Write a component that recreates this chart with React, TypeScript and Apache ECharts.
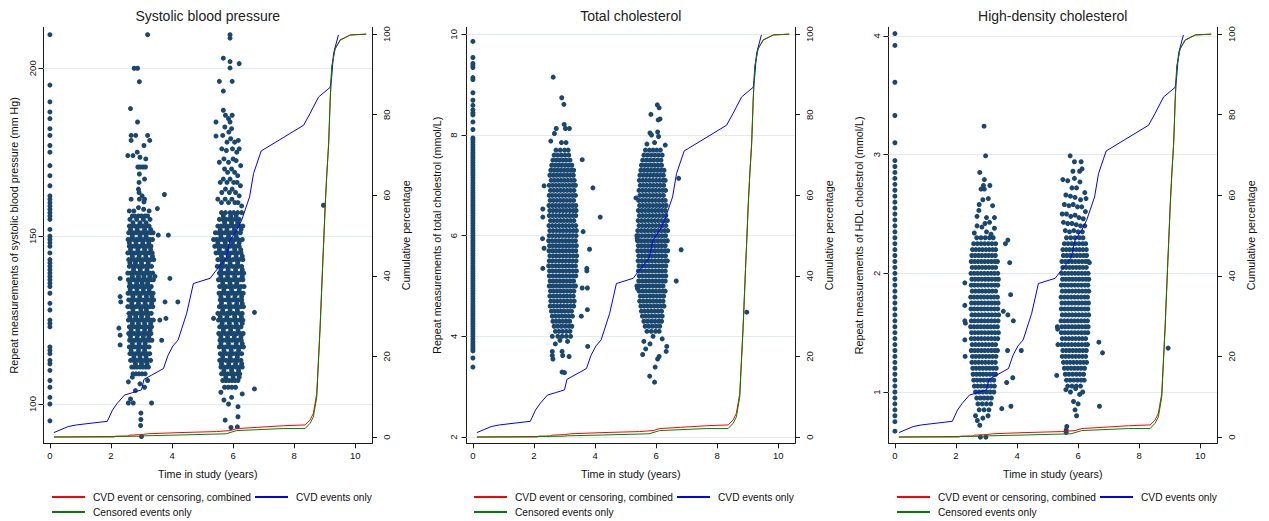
import React, { useEffect, useRef } from "react";
import * as echarts from "echarts";

// ---------- tick labels ----------
const xTicks = [0, 2, 4, 6, 8, 10];
const pctTicks = [0, 20, 40, 60, 80, 100];
const sbpTicks = [100, 150, 200];
const tcTicks = [2, 4, 6, 8, 10];
const hdlTicks = [1, 2, 3, 4];

// ---------- texts ----------
const titles = ["Systolic blood pressure", "Total cholesterol", "High-density cholesterol"];
const yNames = [
  "Repeat measurements of systolic blood pressure (mm Hg)",
  "Repeat measurements of total cholestrol (mmol/L)",
  "Repeat measurements of HDL cholestrol (mmol/L)",
];
const xName = "Time in study (years)";
const pctName = "Cumulative percentage";
const seriesNames = ["CVD event or censoring, combined", "CVD events only", "Censored events only"];

// ---------- cumulative percentage lines [time, percent] ----------
const combinedLine = [[0.13,0],[2.1,0],[2.16,0.2],[2.55,0.25],[2.6,0.45],[3.0,0.6],[3.2,0.8],[4.26,1.1],[5.46,1.35],[5.9,1.6],[6.12,2.1],[6.8,2.4],[7.65,2.8],[8.36,3.0],[8.52,4.2],[8.63,5.9],[8.74,10.8],[8.85,27.4],[8.94,43.9],[8.96,47.2],[9.02,58],[9.07,65.4],[9.13,72.9],[9.18,83.6],[9.23,91.9],[9.34,96.4],[9.51,98.6],[9.84,99.8],[10.36,100]];
const cvdLine = [[0.13,1.1],[0.6,2.6],[0.87,3.0],[1.88,3.9],[2.05,6.7],[2.2,8.3],[2.44,10.4],[2.7,11.0],[3.0,11.7],[3.08,14.3],[3.72,17.0],[3.87,20.3],[4.03,22.6],[4.2,24.1],[4.48,30.7],[4.7,38.1],[5.25,39.4],[5.41,41],[5.77,44.4],[5.9,48.9],[6.12,51.4],[6.28,53.8],[6.54,59.6],[6.67,65.4],[6.92,71.0],[8.31,77.4],[8.52,80.3],[8.8,84.4],[9.18,86.8],[9.23,89.4],[9.29,95.2],[9.45,99.8]];
const censoredLine = [[0.13,0],[2.95,0.2],[3.1,0.3],[4.26,0.5],[5.77,0.8],[6.12,1.6],[7.65,2.1],[8.36,2.1],[8.52,3.4],[8.63,5.0],[8.74,9.9],[8.85,27],[8.94,43.5],[8.96,47],[9.02,57.8],[9.07,65.2],[9.13,72.7],[9.18,83.4],[9.23,91.7],[9.34,96.3],[9.51,98.5],[9.84,99.8],[10.36,100]];

// ---------- Systolic blood pressure ----------
const sbpBase = [210,195,190,187,185,182,180,177,175,171,168,165,162,161,160,159,158,157,156,155,152,150,149,148,147,145,143,142,141,140,139,138,137,136,135,133,130,128,125,124,123,117,116,115,113,112,110,107,105,102,100,95];
// rows: [value, time, time, ...]
const sbp3Rows = [
[156,2.7,2.78,2.9,3.0,3.12,3.2],
[155,2.62,2.84,3.06,3.28],
[154,2.72,2.95,3.15],
[153,2.6,2.68,2.77,2.88,2.97,3.05,3.16,3.25],
[152,2.64,2.86,3.1,3.3],
[151,2.58,2.66,2.74,2.83,2.93,3.02,3.1,3.19,3.3,3.38],
[150,2.7,2.95,3.15],
[149,2.56,2.65,2.75,2.84,2.92,3.0,3.09,3.18,3.27,3.36],
[148,2.6,2.82,3.04,3.24],
[147,2.6,2.69,2.78,2.86,2.95,3.05,3.13,3.22,3.31],
[146,2.64,2.88,3.1,3.3],
[145,2.55,2.63,2.72,2.8,2.9,2.99,3.08,3.17,3.26,3.35],
[144,2.7,2.92,3.14,3.36],
[143,2.58,2.67,2.76,2.85,2.94,3.03,3.12,3.21,3.3,3.4],
[142,2.62,2.8,3.0,3.22],
[141,2.6,2.7,2.79,2.88,2.97,3.06,3.15,3.24,3.33],
[140,2.74,2.96,3.18],
[139,2.55,2.64,2.73,2.82,2.91,3.0,3.1,3.19,3.28,3.37],
[138,2.7,2.9,3.08,3.27],
[137,2.57,2.66,2.75,2.84,2.94,3.03,3.12,3.21,3.31,3.39],
[136,2.62,2.84,3.02,3.2],
[135,2.6,2.69,2.78,2.87,2.96,3.05,3.14,3.23,3.32],
[134,2.63,2.85,3.06,3.25],
[133,2.56,2.65,2.74,2.83,2.92,3.01,3.11,3.2,3.29,3.38],
[132,2.72,2.94,3.16,3.34],
[131,2.58,2.67,2.76,2.86,2.95,3.04,3.13,3.22,3.31,3.4],
[130,2.68,2.9,3.12,3.33],
[129,2.55,2.64,2.73,2.82,2.92,3.01,3.1,3.19,3.28,3.37],
[128,2.72,2.98,3.16],
[127,2.59,2.68,2.77,2.86,2.96,3.05,3.14,3.23,3.32],
[126,2.62,2.81,3.0,3.2],
[125,2.57,2.66,2.75,2.84,2.93,3.02,3.12,3.21,3.3,3.39],
[124,2.7,2.9,3.1,3.3],
[123,2.6,2.69,2.78,2.87,2.97,3.06,3.15,3.24,3.33],
[122,2.66,2.88,3.1,3.28],
[121,2.58,2.67,2.76,2.85,2.94,3.04,3.13,3.22,3.31],
[120,2.64,2.86,3.06,3.24],
[119,2.61,2.7,2.79,2.88,2.98,3.07,3.16,3.25,3.34],
[118,2.7,2.92,3.12],
[117,2.6,2.69,2.78,2.88,2.97,3.06,3.15,3.25],
[116,2.66,2.9,3.1],
[115,2.62,2.71,2.8,2.9,2.99,3.08,3.18,3.27],
[114,2.75,2.95,3.15],
[113,2.64,2.73,2.83,2.92,3.01,3.1,3.2,3.3],
[112,2.8,3.0,3.18],
[111,2.68,2.77,2.86,2.96,3.05,3.14,3.23],
[109,2.72,2.82,2.92,3.02,3.12],
];
const sbp3Extra = [[3.2,210],[2.76,200],[2.87,200],[2.93,196],[2.64,188],[2.87,184],[2.66,180],[2.81,180],[3.2,180],[2.66,178.5],[3.08,177],[3.27,178.5],[2.55,174],[2.72,174],[2.86,175],[2.95,173.5],[3.14,173],[2.88,170.6],[2.96,170.6],[3.05,170.6],[3.13,170.6],[2.93,168.5],[3.1,167],[2.92,166],[2.9,164],[2.92,163],[2.66,161],[2.93,161],[3.02,162],[3.1,161],[2.6,157.5],[2.75,157.5],[2.9,158.5],[3.07,158],[3.25,157.5],[3.75,162.4],[3.08,160.2],[3.52,158.2],[3.88,150.3],[3.55,150.3],[3.93,137.4],[4.19,130.4],[3.77,130.4],[3.8,125.5],[3.44,138],[3.6,125],[3.66,119],[2.3,137.4],[2.3,132],[2.32,130.4],[2.3,120.5],[2.3,117.6],[2.26,122.6],[2.57,106.6],[2.57,100.3],[2.73,100.3],[2.64,101.5],[3.33,100.3],[2.98,97.3],[2.98,95.4],[2.97,93.6],[3.0,90.3],[2.8,104],[2.95,106],[3.1,105],[3.2,107],[2.7,108]];
const sbp6Rows = [
[157,5.62,5.75,5.9,6.02,6.15,6.28],
[156,5.68,5.92,6.1],
[155,5.55,5.66,5.78,5.88,5.98,6.08,6.2],
[154,5.72,5.95,6.15],
[153,5.5,5.6,5.7,5.8,5.9,6.0,6.1,6.22,6.32],
[152,5.58,5.8,6.04,6.26],
[151,5.42,5.52,5.62,5.72,5.82,5.92,6.02,6.12,6.24],
[150,5.6,5.85,6.1],
[149,5.36,5.46,5.56,5.66,5.76,5.86,5.96,6.06,6.16,6.3],
[148,5.5,5.74,5.98,6.2],
[147,5.4,5.5,5.6,5.7,5.8,5.9,6.0,6.1,6.2],
[146,5.55,5.8,6.05,6.25],
[145,5.44,5.54,5.64,5.74,5.84,5.94,6.04,6.14,6.26],
[144,5.62,5.86,6.1,6.3],
[143,5.5,5.6,5.7,5.8,5.9,6.0,6.1,6.2,6.32],
[142,5.65,5.9,6.15],
[141,5.48,5.58,5.68,5.78,5.88,5.98,6.08,6.18,6.28],
[140,5.6,5.84,6.08,6.3],
[139,5.55,5.65,5.75,5.85,5.95,6.05,6.15,6.25,6.35],
[138,5.6,5.82,6.05,6.3],
[137,5.52,5.62,5.72,5.82,5.92,6.02,6.12,6.22,6.32],
[136,5.66,5.9,6.12],
[135,5.56,5.66,5.76,5.86,5.96,6.06,6.16,6.26,6.36],
[134,5.7,5.95,6.2],
[133,5.54,5.64,5.74,5.84,5.94,6.04,6.14,6.24,6.33],
[132,5.6,5.84,6.06,6.28],
[131,5.58,5.68,5.78,5.88,5.98,6.08,6.18,6.28],
[130,5.62,5.88,6.12,6.3],
[129,5.55,5.65,5.75,5.85,5.95,6.05,6.15,6.25,6.34],
[128,5.66,5.9,6.14],
[127,5.5,5.6,5.7,5.8,5.9,6.0,6.1,6.2,6.3],
[126,5.58,5.8,6.05,6.27],
[125,5.52,5.62,5.72,5.82,5.92,6.02,6.12,6.22,6.32],
[124,5.64,5.88,6.1,6.3],
[123,5.56,5.66,5.76,5.86,5.96,6.06,6.16,6.26],
[122,5.68,5.92,6.16],
[121,5.53,5.63,5.73,5.83,5.93,6.03,6.13,6.23,6.33],
[120,5.6,5.82,6.04,6.26],
[119,5.57,5.67,5.77,5.87,5.97,6.07,6.17,6.27],
[118,5.6,5.85,6.1,6.3],
[117,5.55,5.65,5.75,5.85,5.95,6.05,6.15,6.25,6.34],
[116,5.7,5.94,6.18],
[115,5.58,5.68,5.78,5.88,5.98,6.08,6.18,6.28],
[114,5.66,5.9,6.14],
[113,5.56,5.66,5.76,5.86,5.96,6.06,6.16,6.26],
[112,5.62,5.86,6.08,6.28],
[111,5.6,5.7,5.8,5.9,6.0,6.1,6.2,6.3],
[110,5.7,5.95,6.18],
[109,5.62,5.72,5.82,5.92,6.02,6.12,6.22],
[108,5.76,6.0,6.2],
[107,5.66,5.76,5.86,5.96,6.06,6.16],
[105,5.72,5.84,5.96,6.08],
];
const sbp6Extra = [[5.9,210],[5.9,209],[5.68,203],[5.9,202],[6.2,201.4],[5.9,200.1],[5.55,196.1],[5.97,196.1],[5.68,193.2],[5.68,187.5],[5.75,186],[5.85,185],[5.9,184],[5.97,186],[5.44,184],[5.73,182.5],[5.86,181],[5.95,182],[5.44,179.8],[5.66,180],[5.8,178],[5.92,179],[6.05,178],[6.17,178.5],[5.63,176],[5.78,175.5],[5.98,176],[6.12,175],[6.2,176],[5.55,172],[5.7,173],[5.85,172],[6.0,173],[6.1,172.5],[6.25,171],[5.72,170],[5.82,169],[5.95,170],[6.05,169],[6.15,168],[5.58,166],[5.68,167],[5.8,166],[5.9,167],[6.02,166],[6.13,166],[6.24,165],[5.63,163],[5.75,164],[5.88,163],[5.97,164],[6.08,163],[6.2,162],[5.5,161],[5.62,160],[5.74,161],[5.85,160],[5.96,161],[6.06,160],[6.16,160],[6.28,159],[6.7,127.3],[6.7,104.5],[5.36,125.5],[5.7,101.2],[5.95,102],[6.16,99.2],[6.16,96.2],[5.74,95.2],[5.93,93],[6.14,93.2],[5.85,100],[6.3,103],[5.6,103.5]];
const sbpLate = [[8.96,159.2]];

// ---------- Total cholesterol ----------
const tcBase = [9.86,9.54,9.42,9.38,9.34,9.14,9.1,8.84,8.69,8.59,8.5,8.44,8.4,8.26,8.11,7.94,7.9,7.85,7.8,7.75,7.7,7.65,7.6,7.55,7.5,7.45,7.4,7.35,7.3,7.25,7.2,7.15,7.1,7.05,7.0,6.95,6.9,6.85,6.8,6.75,6.7,6.65,6.6,6.55,6.5,6.45,6.4,6.35,6.3,6.25,6.2,6.15,6.1,6.05,6.0,5.95,5.9,5.85,5.8,5.75,5.7,5.65,5.6,5.55,5.5,5.45,5.4,5.35,5.3,5.25,5.2,5.15,5.1,5.05,5.0,4.95,4.9,4.85,4.8,4.75,4.7,4.65,4.6,4.55,4.5,4.45,4.4,4.35,4.3,4.25,4.2,4.15,4.1,4.05,4.0,3.95,3.9,3.85,3.8,3.75,3.71,3.57,3.39];
const tc3Rows = [
[7.7,2.72,2.86,3.0,3.12],
[7.6,2.66,2.78,2.9,3.02,3.14],
[7.5,2.62,2.73,2.84,2.95,3.06,3.18],
[7.4,2.58,2.69,2.8,2.91,3.02,3.13,3.24],
[7.3,2.55,2.66,2.77,2.88,2.99,3.1,3.21,3.3],
[7.2,2.52,2.63,2.74,2.85,2.96,3.07,3.18,3.29],
[7.1,2.56,2.67,2.78,2.89,3.0,3.11,3.22,3.32],
[7.0,2.5,2.61,2.72,2.83,2.94,3.05,3.16,3.27,3.36],
[6.9,2.54,2.65,2.76,2.87,2.98,3.09,3.2,3.31],
[6.8,2.5,2.6,2.71,2.82,2.93,3.04,3.15,3.26,3.36],
[6.7,2.53,2.64,2.75,2.86,2.97,3.08,3.19,3.3],
[6.6,2.49,2.6,2.71,2.82,2.93,3.04,3.15,3.26,3.37],
[6.5,2.52,2.63,2.74,2.85,2.96,3.07,3.18,3.29,3.38],
[6.4,2.5,2.61,2.72,2.83,2.94,3.05,3.16,3.27,3.37],
[6.3,2.54,2.65,2.76,2.87,2.98,3.09,3.2,3.31],
[6.2,2.49,2.6,2.71,2.82,2.93,3.04,3.15,3.26,3.37],
[6.1,2.52,2.63,2.74,2.85,2.96,3.07,3.18,3.29,3.39],
[6.0,2.5,2.61,2.72,2.83,2.94,3.05,3.16,3.27,3.38],
[5.9,2.48,2.59,2.7,2.81,2.92,3.03,3.14,3.25,3.36],
[5.8,2.51,2.62,2.73,2.84,2.95,3.06,3.17,3.28,3.39],
[5.7,2.49,2.6,2.71,2.82,2.93,3.04,3.15,3.26,3.37],
[5.6,2.52,2.63,2.74,2.85,2.96,3.07,3.18,3.29,3.4],
[5.5,2.5,2.61,2.72,2.83,2.94,3.05,3.16,3.27,3.38],
[5.4,2.48,2.59,2.7,2.81,2.92,3.03,3.14,3.25,3.36],
[5.3,2.51,2.62,2.73,2.84,2.95,3.06,3.17,3.28,3.39],
[5.2,2.5,2.61,2.72,2.83,2.94,3.05,3.16,3.27,3.37],
[5.1,2.53,2.64,2.75,2.86,2.97,3.08,3.19,3.3],
[5.0,2.5,2.61,2.72,2.83,2.94,3.05,3.16,3.27,3.36],
[4.9,2.54,2.65,2.76,2.87,2.98,3.09,3.2,3.31],
[4.8,2.52,2.63,2.74,2.85,2.96,3.07,3.18,3.29],
[4.7,2.55,2.66,2.77,2.88,2.99,3.1,3.21,3.32],
[4.6,2.53,2.64,2.75,2.86,2.97,3.08,3.19,3.3],
[4.5,2.57,2.68,2.79,2.9,3.01,3.12,3.23],
[4.4,2.6,2.71,2.82,2.93,3.04,3.15,3.26],
[4.3,2.62,2.73,2.84,2.95,3.06,3.17],
[4.2,2.66,2.78,2.9,3.02,3.14,3.24],
[4.1,2.7,2.82,2.94,3.06,3.18],
[4.0,2.78,2.92,3.06],
];
const tc3Extra = [[2.63,9.15],[2.91,8.74],[2.98,8.61],[2.99,8.21],[2.73,8.13],[3.03,8.13],[3.16,8.13],[2.55,7.88],[2.67,8.03],[2.9,7.85],[3.05,7.85],[3.58,7.51],[3.93,6.95],[4.17,6.37],[3.61,6.08],[3.82,5.73],[3.73,5.35],[3.73,5.3],[3.58,4.96],[3.75,4.96],[3.75,4.53],[3.76,3.8],[3.55,4.4],[2.33,6.99],[2.29,6.53],[2.29,6.37],[2.28,5.94],[2.33,5.75],[2.29,5.35],[2.6,3.7],[2.6,3.62],[2.62,3.55],[2.92,3.7],[2.94,3.62],[3.15,3.6],[2.92,3.29],[3.0,3.28],[2.7,3.85],[3.1,3.9],[2.85,3.92],[3.2,4.0],[2.6,4.0]];
const tc6Rows = [
[7.7,5.65,5.78,5.9,6.02,6.14],
[7.6,5.6,5.72,5.84,5.96,6.08,6.2],
[7.5,5.56,5.68,5.8,5.92,6.04,6.16],
[7.4,5.52,5.63,5.74,5.85,5.96,6.07,6.18],
[7.3,5.5,5.61,5.72,5.83,5.94,6.05,6.16,6.26],
[7.2,5.47,5.58,5.69,5.8,5.91,6.02,6.13,6.24],
[7.1,5.45,5.56,5.67,5.78,5.89,6.0,6.11,6.22,6.3],
[7.0,5.48,5.59,5.7,5.81,5.92,6.03,6.14,6.25],
[6.9,5.44,5.55,5.66,5.77,5.88,5.99,6.1,6.21,6.31],
[6.8,5.47,5.58,5.69,5.8,5.91,6.02,6.13,6.24],
[6.7,5.43,5.54,5.65,5.76,5.87,5.98,6.09,6.2,6.3],
[6.6,5.46,5.57,5.68,5.79,5.9,6.01,6.12,6.23,6.33],
[6.5,5.42,5.53,5.64,5.75,5.86,5.97,6.08,6.19,6.3],
[6.4,5.45,5.56,5.67,5.78,5.89,6.0,6.11,6.22,6.32],
[6.3,5.41,5.52,5.63,5.74,5.85,5.96,6.07,6.18,6.29,6.37],
[6.2,5.44,5.55,5.66,5.77,5.88,5.99,6.1,6.21,6.32],
[6.1,5.4,5.51,5.62,5.73,5.84,5.95,6.06,6.17,6.28,6.38],
[6.0,5.43,5.54,5.65,5.76,5.87,5.98,6.09,6.2,6.31],
[5.9,5.39,5.5,5.61,5.72,5.83,5.94,6.05,6.16,6.27,6.37],
[5.8,5.42,5.53,5.64,5.75,5.86,5.97,6.08,6.19,6.3],
[5.7,5.4,5.51,5.62,5.73,5.84,5.95,6.06,6.17,6.28,6.38],
[5.6,5.43,5.54,5.65,5.76,5.87,5.98,6.09,6.2,6.31],
[5.5,5.41,5.52,5.63,5.74,5.85,5.96,6.07,6.18,6.29,6.37],
[5.4,5.44,5.55,5.66,5.77,5.88,5.99,6.1,6.21,6.32],
[5.3,5.42,5.53,5.64,5.75,5.86,5.97,6.08,6.19,6.3],
[5.2,5.45,5.56,5.67,5.78,5.89,6.0,6.11,6.22,6.32],
[5.1,5.43,5.54,5.65,5.76,5.87,5.98,6.09,6.2,6.3],
[5.0,5.46,5.57,5.68,5.79,5.9,6.01,6.12,6.23],
[4.9,5.44,5.55,5.66,5.77,5.88,5.99,6.1,6.21,6.3],
[4.8,5.48,5.59,5.7,5.81,5.92,6.03,6.14,6.25],
[4.7,5.46,5.57,5.68,5.79,5.9,6.01,6.12,6.23],
[4.6,5.5,5.61,5.72,5.83,5.94,6.05,6.16,6.26],
[4.5,5.52,5.63,5.74,5.85,5.96,6.07,6.18],
[4.4,5.55,5.66,5.77,5.88,5.99,6.1,6.2],
[4.3,5.6,5.72,5.84,5.96,6.08,6.18],
[4.2,5.64,5.76,5.88,6.0,6.12],
[4.1,5.7,5.84,5.98,6.1],
];
const tc6Extra = [[6.04,8.6],[6.1,8.54],[5.83,8.41],[6.07,8.3],[6.13,8.32],[5.8,8.04],[5.85,8.0],[6.05,8.06],[6.08,7.97],[6.3,7.8],[5.95,7.85],[5.7,7.82],[5.34,6.75],[6.82,5.72],[6.66,5.1],[6.74,7.14],[5.56,3.64],[6.1,3.6],[6.05,3.55],[6.33,3.7],[5.97,3.39],[5.79,3.21],[5.95,3.09],[5.37,6.0],[5.38,5.95],[5.37,5.0],[5.39,4.95],[5.6,3.9],[5.8,3.85],[6.2,3.95],[5.9,4.0],[6.35,3.8],[5.66,3.75]];
const tcLate = [[8.97,4.48]];

// ---------- HDL cholesterol ----------
const hdlBase = [4.02,3.92,3.61,3.33,3.1,2.95,2.9,2.85,2.8,2.75,2.7,2.65,2.6,2.55,2.5,2.45,2.4,2.35,2.3,2.25,2.2,2.15,2.1,2.05,2.0,1.95,1.9,1.85,1.8,1.75,1.7,1.65,1.6,1.55,1.5,1.45,1.4,1.35,1.3,1.25,1.2,1.15,1.1,1.05,1.0,0.95,0.9,0.85,0.8,0.75,0.67];
const hdl3Rows = [
[2.3,2.68,2.82,2.96,3.1,3.22],
[2.25,2.58,2.7,2.82,2.94,3.06,3.18,3.3],
[2.2,2.54,2.65,2.76,2.87,2.98,3.09,3.2,3.3],
[2.15,2.52,2.63,2.74,2.85,2.96,3.07,3.18,3.29],
[2.1,2.5,2.61,2.72,2.83,2.94,3.05,3.16,3.27,3.36],
[2.05,2.53,2.64,2.75,2.86,2.97,3.08,3.19,3.3],
[2.0,2.49,2.6,2.71,2.82,2.93,3.04,3.15,3.26,3.37],
[1.95,2.52,2.63,2.74,2.85,2.96,3.07,3.18,3.29,3.39],
[1.9,2.5,2.61,2.72,2.83,2.94,3.05,3.16,3.27,3.37],
[1.85,2.53,2.64,2.75,2.86,2.97,3.08,3.19,3.3],
[1.8,2.48,2.59,2.7,2.81,2.92,3.03,3.14,3.25,3.36],
[1.75,2.51,2.62,2.73,2.84,2.95,3.06,3.17,3.28,3.38],
[1.7,2.49,2.6,2.71,2.82,2.93,3.04,3.15,3.26,3.37],
[1.65,2.52,2.63,2.74,2.85,2.96,3.07,3.18,3.29,3.4],
[1.6,2.5,2.61,2.72,2.83,2.94,3.05,3.16,3.27,3.38],
[1.55,2.48,2.59,2.7,2.81,2.92,3.03,3.14,3.25,3.36],
[1.5,2.51,2.62,2.73,2.84,2.95,3.06,3.17,3.28,3.39],
[1.45,2.5,2.61,2.72,2.83,2.94,3.05,3.16,3.27,3.37],
[1.4,2.53,2.64,2.75,2.86,2.97,3.08,3.19,3.3],
[1.35,2.5,2.61,2.72,2.83,2.94,3.05,3.16,3.27,3.36],
[1.3,2.54,2.65,2.76,2.87,2.98,3.09,3.2,3.31],
[1.25,2.52,2.63,2.74,2.85,2.96,3.07,3.18,3.29],
[1.2,2.55,2.66,2.77,2.88,2.99,3.1,3.21,3.32],
[1.15,2.56,2.67,2.78,2.89,3.0,3.11,3.22,3.3],
[1.1,2.58,2.69,2.8,2.91,3.02,3.13,3.24],
[1.05,2.6,2.71,2.82,2.93,3.04,3.15,3.26],
[1.0,2.64,2.76,2.88,3.0,3.12,3.24],
[0.95,2.68,2.8,2.92,3.04,3.16],
[0.9,2.72,2.86,3.0,3.14],
[0.85,2.76,2.92,3.08],
];
const hdl3Extra = [[2.92,3.24],[2.97,2.99],[2.78,2.85],[2.93,2.79],[3.11,2.74],[2.9,2.74],[2.82,2.71],[2.93,2.71],[2.88,2.62],[3.06,2.63],[2.76,2.58],[3.2,2.57],[2.75,2.53],[3.0,2.47],[3.26,2.47],[2.69,2.48],[2.69,2.4],[2.85,2.39],[3.26,2.38],[2.95,2.42],[3.1,2.43],[2.6,2.34],[3.0,2.35],[3.15,2.33],[3.7,2.28],[3.62,2.25],[3.76,2.09],[3.79,1.82],[3.88,1.6],[3.7,1.65],[3.69,1.35],[4.14,1.35],[3.86,1.12],[3.66,1.08],[3.8,0.88],[3.5,0.86],[3.55,1.68],[2.29,1.92],[2.29,1.73],[2.29,1.6],[2.31,1.58],[2.29,1.44],[2.3,1.3],[2.64,0.8],[2.78,0.72],[2.7,0.76],[2.8,0.62],[2.98,0.62],[2.88,0.78],[3.05,0.8]];
const hdl6Rows = [
[2.3,5.62,5.76,5.9,6.04,6.16],
[2.25,5.55,5.67,5.79,5.91,6.03,6.15,6.25],
[2.2,5.5,5.61,5.72,5.83,5.94,6.05,6.16,6.27],
[2.15,5.52,5.63,5.74,5.85,5.96,6.07,6.18,6.28],
[2.1,5.47,5.58,5.69,5.8,5.91,6.02,6.13,6.24,6.33],
[2.05,5.5,5.61,5.72,5.83,5.94,6.05,6.16,6.27],
[2.0,5.46,5.57,5.68,5.79,5.9,6.01,6.12,6.23,6.33],
[1.95,5.49,5.6,5.71,5.82,5.93,6.04,6.15,6.26,6.35],
[1.9,5.45,5.56,5.67,5.78,5.89,6.0,6.11,6.22,6.32],
[1.85,5.48,5.59,5.7,5.81,5.92,6.03,6.14,6.25,6.35],
[1.8,5.44,5.55,5.66,5.77,5.88,5.99,6.1,6.21,6.31],
[1.75,5.47,5.58,5.69,5.8,5.91,6.02,6.13,6.24,6.34],
[1.7,5.45,5.56,5.67,5.78,5.89,6.0,6.11,6.22,6.32],
[1.65,5.48,5.59,5.7,5.81,5.92,6.03,6.14,6.25,6.35],
[1.6,5.44,5.55,5.66,5.77,5.88,5.99,6.1,6.21,6.31],
[1.55,5.47,5.58,5.69,5.8,5.91,6.02,6.13,6.24,6.33],
[1.5,5.45,5.56,5.67,5.78,5.89,6.0,6.11,6.22,6.32],
[1.45,5.48,5.59,5.7,5.81,5.92,6.03,6.14,6.25],
[1.4,5.46,5.57,5.68,5.79,5.9,6.01,6.12,6.23,6.31],
[1.35,5.5,5.61,5.72,5.83,5.94,6.05,6.16,6.27],
[1.3,5.48,5.59,5.7,5.81,5.92,6.03,6.14,6.25],
[1.25,5.52,5.63,5.74,5.85,5.96,6.07,6.18,6.28],
[1.2,5.55,5.66,5.77,5.88,5.99,6.1,6.21],
[1.15,5.58,5.7,5.82,5.94,6.06,6.18],
[1.1,5.62,5.74,5.86,5.98,6.1,6.2],
[1.05,5.66,5.8,5.94,6.08],
];
const hdl6Extra = [[5.74,2.99],[5.88,2.94],[6.1,2.94],[5.83,2.86],[6.05,2.86],[6.13,2.88],[5.5,2.79],[5.66,2.78],[5.88,2.8],[6.06,2.77],[5.8,2.72],[5.95,2.72],[6.22,2.68],[6.26,2.63],[5.6,2.66],[5.75,2.65],[5.9,2.64],[6.08,2.62],[5.55,2.58],[5.7,2.57],[5.84,2.58],[5.98,2.56],[6.12,2.56],[6.24,2.52],[5.48,2.5],[5.62,2.5],[5.76,2.48],[5.9,2.49],[6.03,2.47],[6.17,2.46],[5.52,2.43],[5.66,2.42],[5.8,2.42],[5.94,2.41],[6.08,2.4],[6.22,2.4],[5.58,2.36],[5.72,2.35],[5.86,2.36],[6.0,2.35],[6.14,2.35],[6.37,2.09],[6.68,1.42],[6.8,1.33],[6.7,0.88],[5.3,1.14],[5.33,1.53],[5.32,1.55],[5.34,1.4],[5.6,1.02],[5.75,1.0],[5.92,1.03],[6.05,0.98],[6.15,1.0],[5.85,0.92],[6.0,0.9],[5.9,0.85],[5.95,0.8],[5.63,0.71],[5.61,0.68],[5.61,0.66]];
const hdlLate = [[8.95,1.37]];

// ---------- helpers ----------
const column = (t: number, vals: number[]) => vals.map((v) => [t, v]);
const rowsToPts = (rows: number[][]) => rows.flatMap(([v, ...ts]) => ts.map((t) => [t, v]));

const panels = [
  { title: titles[0], yName: yNames[0], ticks: sbpTicks, min: 88.3, max: 212.2, labelMargin: 6,
    points: [...column(0, sbpBase), ...rowsToPts(sbp3Rows), ...sbp3Extra, ...rowsToPts(sbp6Rows), ...sbp6Extra, ...sbpLate] },
  { title: titles[1], yName: yNames[1], ticks: tcTicks, min: 1.875, max: 10.14, labelMargin: 8,
    points: [...column(0, tcBase), ...rowsToPts(tc3Rows), ...tc3Extra, ...rowsToPts(tc6Rows), ...tc6Extra, ...tcLate] },
  { title: titles[2], yName: yNames[2], ticks: hdlTicks, min: 0.568, max: 4.073, labelMargin: 7,
    points: [...column(0, hdlBase), ...rowsToPts(hdl3Rows), ...hdl3Extra, ...rowsToPts(hdl6Rows), ...hdl6Extra, ...hdlLate] },
];

// ---------- layout ----------
const FONT = "'Liberation Sans', Arial, Helvetica, sans-serif";
const GRID_LEFT = [43.5, 466.5, 888.5];
const GRID_W = 328.5;
const GRID_TOP = 27.3;
const GRID_H = 416;
const LEGEND_LEFT = [52, 474, 897];
const axisLineStyle = { color: "#1a1a1a", width: 1 };
const txt = "#111111";
const lineColors = ["#ff0000", "#0000ff", "#008000"];
const lineData = [combinedLine, cvdLine, censoredLine];

function buildOption() {
  return {
    animation: false,
    backgroundColor: "#ffffff",
    title: panels.map((p, i) => ({
      text: p.title,
      left: GRID_LEFT[i] + GRID_W / 2,
      top: 9,
      textAlign: "center",
      padding: 0,
      textStyle: { fontSize: 14, fontWeight: "normal", color: "#222222", fontFamily: FONT },
    })),
    grid: GRID_LEFT.map((l) => ({ left: l, top: GRID_TOP, width: GRID_W, height: GRID_H, containLabel: false, outerBoundsMode: "none" })),
    legend: LEGEND_LEFT.map((l) => ({
      left: l,
      top: 491.5,
      padding: 0,
      width: 330,
      orient: "horizontal",
      itemWidth: 33,
      itemHeight: 2,
      itemGap: 4,
      icon: "rect",
      selectedMode: false,
      data: seriesNames,
      textStyle: { fontSize: 10.2, color: txt, fontFamily: FONT, lineHeight: 11, padding: [0, 0, 0, 3] },
    })),
    xAxis: panels.map((p, i) => ({
      type: "value",
      gridIndex: i,
      min: -0.21,
      max: 10.55,
      axisLine: { show: true, onZero: false, lineStyle: axisLineStyle },
      axisTick: { show: true, length: 5, customValues: xTicks, lineStyle: axisLineStyle },
      axisLabel: { show: true, customValues: xTicks, margin: 7, fontSize: 9.5, color: txt, fontFamily: FONT },
      splitLine: { show: false },
      name: xName,
      nameLocation: "middle",
      nameGap: 25,
      nameTextStyle: { fontSize: 10.7, color: txt, fontFamily: FONT },
    })),
    yAxis: panels.flatMap((p, i) => [
      {
        type: "value",
        gridIndex: i,
        position: "left",
        min: p.min,
        max: p.max,
        axisLine: { show: true, onZero: false, lineStyle: axisLineStyle },
        axisTick: { show: true, length: 5, customValues: p.ticks, lineStyle: axisLineStyle },
        axisLabel: { show: true, customValues: p.ticks, rotate: 90, margin: p.labelMargin, fontSize: 9.5, color: txt, fontFamily: FONT },
        splitLine: { show: false },
        name: p.yName,
        nameLocation: "middle",
        nameGap: 24,
        nameRotate: 90,
        nameTextStyle: { fontSize: 10.7, color: txt, fontFamily: FONT },
      },
      {
        type: "value",
        gridIndex: i,
        position: "right",
        min: -1.56,
        max: 101.7,
        axisLine: { show: true, onZero: false, lineStyle: axisLineStyle },
        axisTick: { show: true, length: 5, customValues: pctTicks, lineStyle: axisLineStyle },
        axisLabel: { show: true, customValues: pctTicks, rotate: 90, margin: 9, fontSize: 9.5, color: txt, fontFamily: FONT },
        splitLine: { show: false },
        name: pctName,
        nameLocation: "middle",
        nameGap: 28,
        nameRotate: 90,
        nameTextStyle: { fontSize: 10.7, color: txt, fontFamily: FONT },
      },
    ]),
    series: panels.flatMap((p, i) => [
      {
        type: "scatter",
        name: "Repeat measurements",
        xAxisIndex: i,
        yAxisIndex: 2 * i,
        data: p.points,
        symbol: "circle",
        symbolSize: 5,
        itemStyle: { color: "#1a476f", opacity: 1 },
        silent: true,
        z: 2,
        markLine: {
          silent: true,
          symbol: "none",
          z: 1,
          label: { show: false },
          lineStyle: { color: "#e3ecec", width: 1, type: "solid" },
          emphasis: { disabled: true },
          data: p.ticks.map((v) => ({ yAxis: v })),
        },
      },
      ...seriesNames.map((n, k) => ({
        type: "line",
        name: n,
        xAxisIndex: i,
        yAxisIndex: 2 * i + 1,
        data: lineData[k],
        showSymbol: false,
        symbol: "none",
        color: lineColors[k],
        lineStyle: { color: lineColors[k], width: 1 },
        silent: true,
        z: 3 + k,
      })),
    ]),
  };
}

export default function App() {
  const ref = useRef<HTMLDivElement>(null);
  useEffect(() => {
    document.body.style.margin = "0";
    const chart = echarts.init(ref.current as HTMLDivElement, null, { renderer: "svg" });
    chart.setOption(buildOption() as any);
    return () => chart.dispose();
  }, []);
  return <div ref={ref} style={{ width: 1269, height: 521, background: "#ffffff" }} />;
}
